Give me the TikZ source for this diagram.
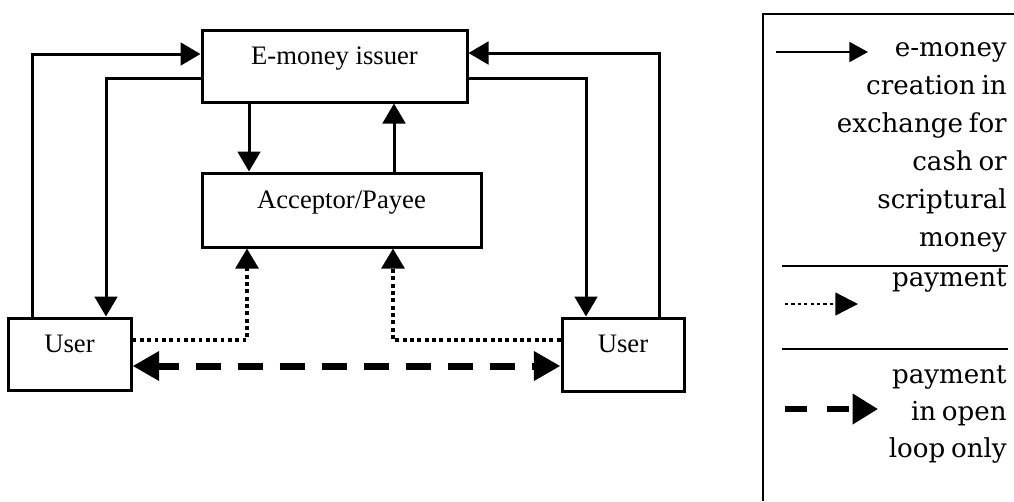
\documentclass[tikz,border=0pt]{standalone}
\usepackage{fontspec}
\setmainfont{Liberation Serif}
\newfontfamily\legfont{DejaVu Serif}
\usetikzlibrary{arrows.meta}

% legend type: serif with tight word spaces
\newcommand\legsetup{\legfont\fontsize{19.6pt}{23pt}\selectfont
  \spaceskip=0.22em plus 0.1em\relax}

\tikzset{
  box/.style={draw, line width=2.25pt, inner sep=0pt, rectangle,
    font=\fontsize{20pt}{24pt}\selectfont},
  flow/.style={line width=2.25pt, -{Triangle[length=15pt,width=17pt]}},
  dotflow/.style={line width=2.8pt, dash pattern=on 2.8pt off 2.7pt,
    -{Triangle[length=15pt,width=17pt]}},
  dashflow/.style={line width=5.25pt, dash pattern=on 18.75pt off 12.75pt,
    dash phase=3pt,
    {Triangle[length=20pt,width=21pt]}-{Triangle[length=20pt,width=21pt]}},
  legline/.style={line width=1.5pt},
  keysolid/.style={line width=1.5pt, -{Triangle[length=14pt,width=15pt]}},
  keydot/.style={line width=1.8pt, dash pattern=on 2.4pt off 2.4pt,
    -{Triangle[length=17pt,width=17pt]}},
  keydash/.style={line width=4.5pt, dash pattern=on 16.5pt off 15pt,
    -{Triangle[length=19pt,width=22pt]}},
  keytext/.style={anchor=base east, inner sep=0pt, font=\legsetup},
}

\begin{document}
\begin{tikzpicture}[x=0.75pt,y=-0.75pt]
\useasboundingbox (0,0) rectangle (1014,501);

% boxes
\node[box, minimum width=198.75pt, minimum height=54pt,
      text height=25.5pt, text depth=28.5pt] (issuer) at (334.5,66) {E-money issuer};
\node[box, minimum width=209.25pt, minimum height=55.5pt,
      text height=26.25pt, text depth=29.25pt] (acceptor) at (341.5,210) {Acceptor/Payee};
\node[box, minimum width=92.25pt, minimum height=54pt,
      text height=25.5pt, text depth=28.5pt] (userL) at (69.5,354) {User};
\node[box, minimum width=91.5pt, minimum height=54.75pt,
      text height=25.5pt, text depth=29.25pt] (userR) at (623,354.5) {User};

% e-money creation flows
\draw[flow] (userL.north -| 32,0) |- (issuer.west |- 0,54);
\draw[flow] (issuer.west |- 0,78) -| (userL.north -| 106,0);
\draw[flow] (userR.north -| 659,0) |- (issuer.east |- 0,53);
\draw[flow] (issuer.east |- 0,78) -| (userR.north -| 586,0);
\draw[flow] (issuer.south -| 249,0) -- (acceptor.north -| 249,0);
\draw[flow] (acceptor.north -| 394,0) -- (issuer.south -| 394,0);

% payments
\draw[dotflow] (userL.east |- 0,340) -| (acceptor.south -| 247,0);
\draw[dotflow] (userR.west |- 0,340) -| (acceptor.south -| 393,0);

% open loop payment
\draw[dashflow] (userL.east |- 0,366) -- (userR.west |- 0,366);

% legend frame and separators
\draw[legline] (1014,14) -- (763,14) -- (763,501);
\draw[legline] (782,266) -- (1008,266);
\draw[legline] (782,349) -- (1008,349);

% legend samples
\coordinate (ka) at (776,52);  \coordinate (kb) at (868,52);
\coordinate (kc) at (785,304); \coordinate (kd) at (858,304);
\coordinate (ke) at (785,409); \coordinate (kf) at (878,409);
\draw[keysolid] (ka) -- (kb);
\draw[keydot] (kc) -- (kd);
\draw[keydash] (ke) -- (kf);

% legend texts
\node[keytext] (t1) at (1007,56)  {e-money};
\node[keytext] (t2) at (1007,94)  {creation in};
\node[keytext] (t3) at (1007,132) {exchange for};
\node[keytext] (t4) at (1007,170) {cash or};
\node[keytext] (t5) at (1007,208) {scriptural};
\node[keytext] (t6) at (1007,246) {money};
\node[keytext] (t7) at (1007,286) {payment};
\node[keytext] (t8) at (1007,383) {payment};
\node[keytext] (t9) at (1007,420) {in open};
\node[keytext] (t10) at (1007,457) {loop only};
\end{tikzpicture}
\end{document}
